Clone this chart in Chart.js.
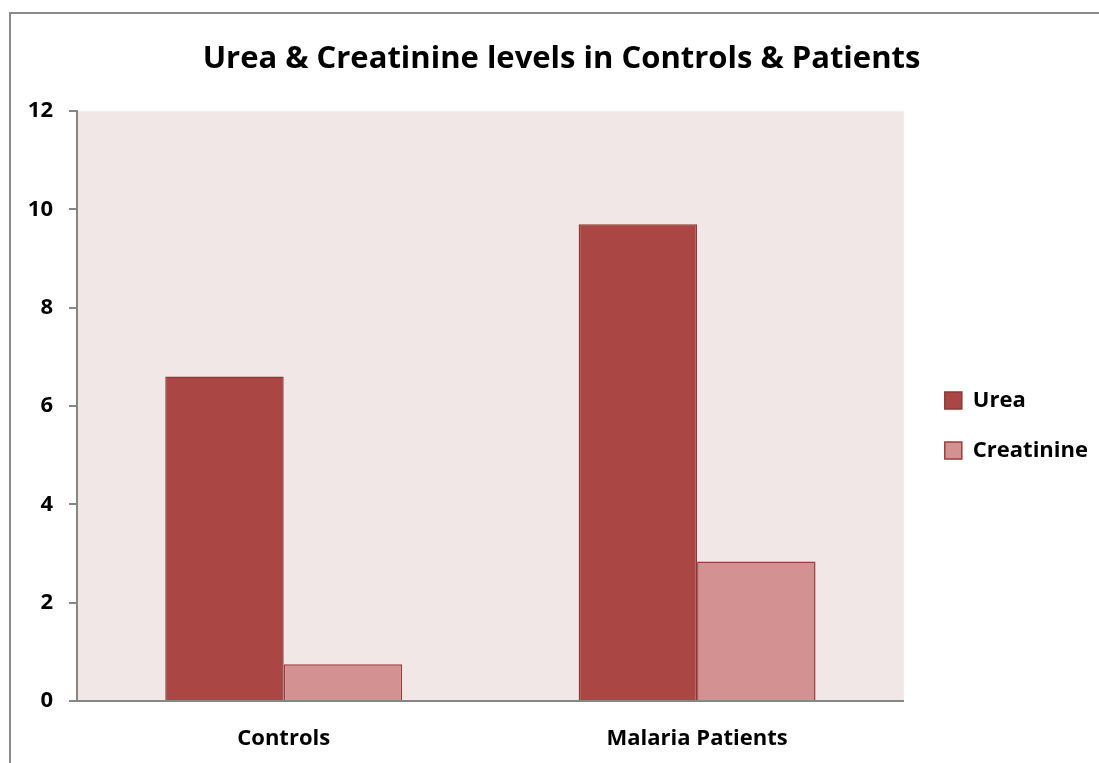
<!DOCTYPE html>
<html>
<head>
<meta charset="utf-8">
<script src="https://cdn.jsdelivr.net/npm/chart.js@4.4.0/dist/chart.umd.min.js"></script>
<style>
    html, body { margin: 0; padding: 0; background: #fff; overflow: hidden; }
    #wrap { position: absolute; left: 0; top: 0; width: 1124px; height: 790px; }
    #frame { position: absolute; left: 9px; top: 12px; width: 1104px; height: 770px; border: 2px solid #8a8a8a; box-sizing: border-box; }
    canvas { position: absolute; left: 0; top: 0; }
</style>
</head>
<body>
<div id="wrap">
    <div id="frame"></div>
    <canvas id="chart" width="1124" height="763"></canvas>
</div>
<script>
// Chart data
const categories = ['Controls', 'Malaria Patients'];
const ureaValues = [6.6, 9.7];
const creatinineValues = [0.75, 2.84];
const yTicks = [0, 2, 4, 6, 8, 10, 12];

const fontFamily = '"Open Sans", Lato, sans-serif';

// Plot background like the Excel plot area
const plotBackground = {
    id: 'plotBackground',
    beforeDraw(chart) {
        const { ctx, chartArea } = chart;
        ctx.save();
        ctx.fillStyle = '#f2e7e7';
        ctx.fillRect(chartArea.left, chartArea.top, chartArea.right - chartArea.left, chartArea.bottom - chartArea.top);
        ctx.restore();
    },
    afterLayout(chart) {
        // move the legend a bit away from the plot area
        const lg = chart.legend;
        lg.left += 13;
        lg.right += 13;
        lg.top += 44;
        lg.bottom += 44;
        // title sits centred on the whole frame
        const t = chart.titleBlock;
        t.left += 19;
        t.right += 19;
    }
};

const ctx = document.getElementById('chart').getContext('2d');
const chart = new Chart(ctx, {
    type: 'bar',
    data: {
        labels: categories,
        datasets: [{
            label: 'Urea',
            data: ureaValues,
            backgroundColor: '#aa4644',
            borderColor: '#8c3836',
            borderWidth: 1.5
        }, {
            label: 'Creatinine',
            data: creatinineValues,
            backgroundColor: '#d39291',
            borderColor: '#9a3c3a',
            borderWidth: 1.5
        }]
    },
    options: {
        responsive: false,
        animation: false,
        layout: { padding: { left: 0, right: 39, top: 0, bottom: 0 } },
        datasets: {
            bar: { categoryPercentage: 0.573, barPercentage: 1.0 }
        },
        plugins: {
            title: {
                display: true,
                text: 'Urea & Creatinine levels in Controls & Patients',
                color: '#000',
                font: { family: fontFamily, size: 31, weight: 'bold' },
                padding: { top: 41, bottom: 33 }
            },
            legend: {
                position: 'right',
                labels: {
                    color: '#000',
                    font: { family: fontFamily, size: 22, weight: 'bold' },
                    boxWidth: 17,
                    boxHeight: 17,
                    padding: 28
                }
            },
            tooltip: { enabled: false }
        },
        scales: {
            x: {
                grid: { display: false, drawTicks: false },
                border: { display: true, color: '#868686', width: 2 },
                ticks: {
                    color: '#000',
                    font: { family: fontFamily, size: 22, weight: 'bold' },
                    padding: 25
                },
                afterFit(scale) { scale.height = 62; }
            },
            y: {
                min: 0,
                max: 12,
                afterBuildTicks(scale) { scale.ticks = yTicks.map(v => ({ value: v })); },
                grid: { drawOnChartArea: false, drawTicks: true, tickLength: 8, color: '#868686', lineWidth: 2 },
                border: { display: true, color: '#868686', width: 2 },
                ticks: {
                    color: '#000',
                    font: { family: fontFamily, size: 22, weight: 'bold' },
                    padding: 16
                },
                afterFit(scale) { scale.width = 77; }
            }
        }
    },
    plugins: [plotBackground]
});
</script>
</body>
</html>
